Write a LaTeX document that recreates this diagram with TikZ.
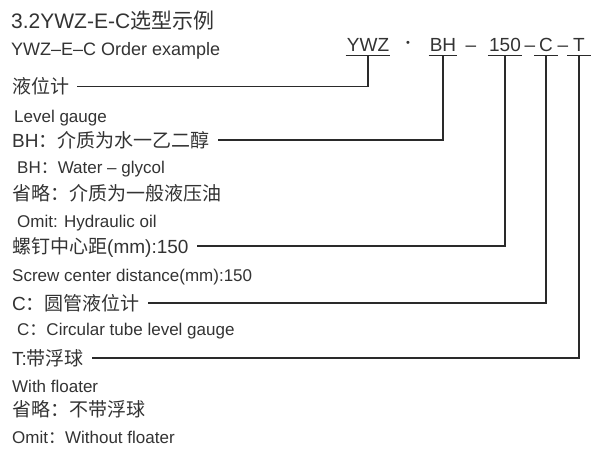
\documentclass[tikz,border=0pt]{standalone}
\usepackage{fontspec}
\setmainfont{Liberation Sans}
\newfontfamily\zh{Noto Sans CJK SC}
\definecolor{ywzInk}{HTML}{333333}
\definecolor{ywzLine}{HTML}{2A2A2A}
\usetikzlibrary{arrows.meta}

\begin{document}
\begin{tikzpicture}[x=1pt,y=-1pt,
		every node/.style={text=ywzInk},
		titulo/.style={anchor=base west, inner sep=0pt, font=\fontsize{21}{24}\selectfont},
		zhlab/.style={anchor=base west, inner xsep=0pt, inner ysep=2pt, text height=14pt, text depth=0pt, font=\fontsize{19}{22}\selectfont},
		enlab/.style={anchor=base west, inner sep=0pt, font=\fontsize{17}{20}\selectfont},
		codigo/.style={anchor=base, inner xsep=1pt, inner ysep=4pt, text depth=0pt, font=\fontsize{19}{22}\selectfont},
		sep/.style={anchor=base, inner sep=0pt, font=\fontsize{19}{22}\selectfont},
		conector/.style={draw=ywzLine, line width=1.1pt, shorten >=8pt}]
		
		\useasboundingbox[fill=white] (0,0) rectangle (598,453);
		
		% Titulo
		\node[titulo] (tit) at (11,28.5) {3.2YWZ-E-C{\zh 选型示例}};
		\node[titulo, font=\fontsize{18}{21}\selectfont] (sub) at (11,55) {YWZ–E–C Order example};
		
		% Codigo de pedido
		\node[codigo] (ywz) at (368,51) {YWZ};
		\node[sep, font=\fontsize{11}{13}\selectfont] (pto) at (408,46.5) {•};
		\node[codigo] (bh) at (443,51) {BH};
		\node[sep] (g1) at (471,51) {–};
		\node[codigo] (dist) at (505,51) {150};
		\node[sep] (g2) at (530,51) {–};
		\node[codigo, minimum width=23pt] (tubo) at (546,51) {C};
		\node[sep] (g3) at (563,51) {–};
		\node[codigo, minimum width=23pt] (flot) at (579,51) {T};
		
		\foreach \c in {ywz,bh,dist,tubo,flot}
			\draw[ywzLine, line width=1.1pt] (\c.south west) -- (\c.south east);
		
		% Descripciones
		\node[zhlab] (liq) at (12,93.5) {\zh 液位计};
		\node[enlab] (liqen) at (14,122) {Level gauge};
		\node[zhlab] (med) at (12,147) {BH{\zh ：介质为水一乙二醇}};
		\node[enlab] (meden) at (17,173) {BH{\zh ：}Water – glycol};
		\node[zhlab] (omi) at (12,200.5) {\zh 省略：介质为一般液压油};
		\node[enlab] (omien) at (17,227) {Omit: Hydraulic oil};
		\node[zhlab] (tor) at (12,253) {{\zh 螺钉中心距}(mm):150};
		\node[enlab] (toren) at (12,281) {Screw center distance(mm):150};
		\node[zhlab] (circ) at (12,310) {C{\zh ：圆管液位计}};
		\node[enlab] (circen) at (17,335) {C{\zh ：}Circular tube level gauge};
		\node[zhlab] (bola) at (12,365) {T:{\zh 带浮球}};
		\node[enlab] (bolaen) at (12,392) {With floater};
		\node[zhlab] (sinb) at (12,416.5) {\zh 省略：不带浮球};
		\node[enlab] (sinben) at (12,443) {Omit{\zh ：}Without floater};
		
		% Lineas de referencia
		\draw[conector] (ywz.south) |- (liq.east);
		\draw[conector] (bh.south) |- (med.east);
		\draw[conector] (dist.south) |- (tor.east);
		\draw[conector] (tubo.south) |- (circ.east);
		\draw[conector] (flot.south) |- (bola.east);
		
	\end{tikzpicture}
\end{document}
